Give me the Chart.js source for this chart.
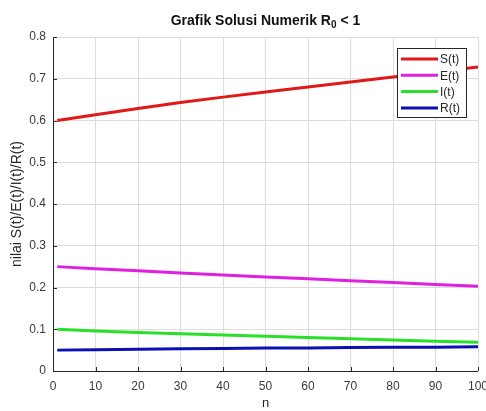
<!DOCTYPE html>
<html>
<head>
<meta charset="utf-8">
<script src="https://cdn.jsdelivr.net/npm/chart.js@4"></script>
<style>
  html, body { margin: 0; padding: 0; background: #fff; }
  #wrap { position: relative; width: 486px; height: 411px; }
  #title { position: absolute; left: 0; width: 531px; top: 12px; text-align: center;
           font: bold 14px "Liberation Sans", Arial, sans-serif; color: #111; white-space: nowrap; }
  #title sub { font-size: 10px; vertical-align: -3px; line-height: 0; }
</style>
</head>
<body>
<div id="wrap">
  <canvas id="c" width="486" height="411"></canvas>
  <div id="title">Grafik Solusi Numerik R<sub>0</sub> &lt; 1</div>
</div>
<script>
// n values at which the curves are read
const nValues = [1, 10, 20, 30, 40, 50, 60, 70, 80, 90, 100];
const seriesLabels = ['S(t)', 'E(t)', 'I(t)', 'R(t)'];
const sValues = [0.600, 0.614, 0.629, 0.643, 0.656, 0.668, 0.680, 0.692, 0.704, 0.716, 0.728];
const eValues = [0.250, 0.245, 0.240, 0.235, 0.230, 0.225, 0.221, 0.216, 0.212, 0.207, 0.203];
const iValues = [0.100, 0.096, 0.092, 0.089, 0.086, 0.083, 0.080, 0.077, 0.074, 0.071, 0.069];
const rValues = [0.050, 0.051, 0.052, 0.053, 0.054, 0.055, 0.055, 0.056, 0.057, 0.057, 0.058];
const xTicks = [0, 10, 20, 30, 40, 50, 60, 70, 80, 90, 100];
const yTicks = [0, 0.1, 0.2, 0.3, 0.4, 0.5, 0.6, 0.7, 0.8];
const colors = ['#e01818', '#e020e0', '#28e028', '#0a10b4'];

const FONT = '"Liberation Sans", Arial, sans-serif';
const seriesValues = [sValues, eValues, iValues, rValues];

const datasets = seriesValues.map((vals, k) => ({
  label: seriesLabels[k],
  data: nValues.map((n, j) => ({ x: n, y: vals[j] })),
  borderColor: colors[k],
  backgroundColor: colors[k],
  borderWidth: 3,
  pointRadius: 0,
  tension: 0
}));

const axisPlugin = {
  id: 'matlabAxes',
  afterDraw(chart) {
    const ctx = chart.ctx;
    const a = chart.chartArea;
    const xs = chart.scales.x, ys = chart.scales.y;
    ctx.save();
    ctx.strokeStyle = '#262626';
    ctx.lineWidth = 1;
    ctx.beginPath();
    ctx.moveTo(a.left + 0.5, a.top);
    ctx.lineTo(a.left + 0.5, a.bottom + 0.5);
    ctx.lineTo(a.right, a.bottom + 0.5);
    // inward ticks
    xTicks.forEach(v => {
      const px = Math.round(xs.getPixelForValue(v)) + 0.5;
      ctx.moveTo(px, a.bottom);
      ctx.lineTo(px, a.bottom - 4);
    });
    yTicks.forEach(v => {
      const py = Math.round(ys.getPixelForValue(v)) + 0.5;
      ctx.moveTo(a.left, py);
      ctx.lineTo(a.left + 4, py);
    });
    ctx.stroke();

    // legend box inside the axes (top right)
    const bx = 397, by = 48, bw = 69, bh = 69;
    ctx.fillStyle = '#fff';
    ctx.fillRect(bx, by, bw, bh);
    ctx.strokeStyle = '#262626';
    ctx.strokeRect(bx + 0.5, by + 0.5, bw, bh);
    ctx.font = '12px ' + FONT;
    ctx.textBaseline = 'middle';
    ctx.textAlign = 'left';
    chart.data.datasets.forEach((ds, k) => {
      const yy = by + 11 + k * 16.3;
      ctx.strokeStyle = ds.borderColor;
      ctx.lineWidth = 3;
      ctx.beginPath();
      ctx.moveTo(bx + 4, yy);
      ctx.lineTo(bx + 41, yy);
      ctx.stroke();
      ctx.fillStyle = '#262626';
      ctx.fillText(ds.label, bx + 43, yy + 1);
    });
    ctx.restore();
  }
};

new Chart(document.getElementById('c'), {
  type: 'line',
  data: { datasets },
  plugins: [axisPlugin],
  options: {
    responsive: false,
    animation: false,
    layout: { padding: { top: 37, right: 8, left: 0, bottom: 0 } },
    plugins: { legend: { display: false }, title: { display: false }, tooltip: { enabled: false } },
    scales: {
      x: {
        type: 'linear', min: 0, max: 100,
        afterBuildTicks(s) { s.ticks = xTicks.map(v => ({ value: v })); },
        afterFit(s) { s.height = 40; s.paddingRight = 0; s.paddingLeft = 0; },
        border: { display: false },
        grid: { color: '#dcdcdc', drawTicks: false, lineWidth: 1 },
        ticks: { padding: 8, color: '#3a3a3a', font: { family: FONT, size: 12 }, maxRotation: 0,
                 callback: v => String(v) },
        title: { display: true, text: 'n', color: '#262626', font: { family: FONT, size: 13 },
                 padding: { top: 0, bottom: 0 } }
      },
      y: {
        type: 'linear', min: 0, max: 0.8,
        afterBuildTicks(s) { s.ticks = yTicks.map(v => ({ value: v })); },
        afterFit(s) { s.width = 53; },
        border: { display: false },
        grid: { color: '#dcdcdc', drawTicks: false, lineWidth: 1 },
        ticks: { padding: 7, color: '#3a3a3a', font: { family: FONT, size: 12 },
                 callback: v => String(Math.round(v * 10) / 10) },
        title: { display: true, text: 'nilai S(t)/E(t)/I(t)/R(t)', color: '#262626',
                 font: { family: FONT, size: 14 }, padding: { top: 9, bottom: 0 } }
      }
    }
  }
});
</script>
</body>
</html>
